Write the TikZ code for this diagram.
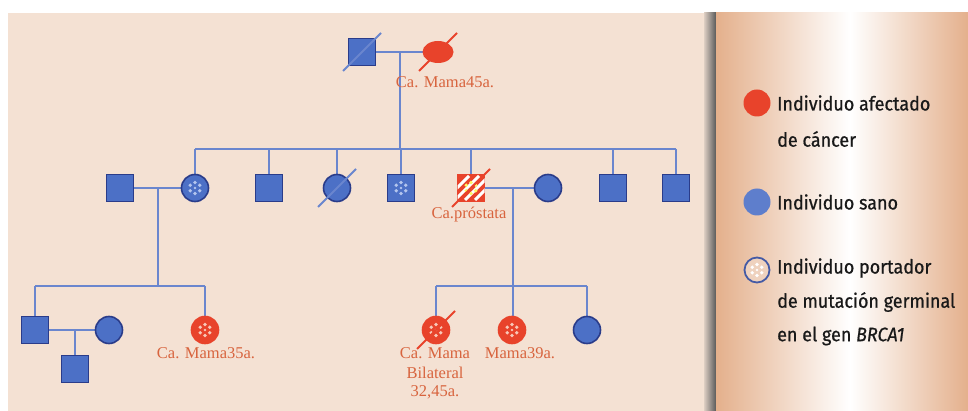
\documentclass[tikz,border=0pt]{standalone}
\usepackage{fontspec}
\setmainfont{Liberation Serif}
\newfontfamily\legfont[FakeStretch=0.92,FakeBold=0.7]{Fira Sans}
\usetikzlibrary{shapes.geometric}
\definecolor{bgbeige}{HTML}{F4E1D3}
\definecolor{nodeblue}{HTML}{4C70C6}
\definecolor{navy}{HTML}{2A3C8A}
\definecolor{lineblue}{HTML}{6A86CE}
\definecolor{affred}{HTML}{E8432B}
\definecolor{labred}{HTML}{D8643E}
\definecolor{tan}{HTML}{E4B08C}
\definecolor{dotblue}{HTML}{B4C6EE}
\definecolor{dotred}{HTML}{F8C8B8}
\tikzset{
  conn/.style={draw=lineblue, line width=2.6pt},
  male/.style={rectangle, minimum size=27pt, inner sep=0pt, fill=nodeblue, draw=navy, line width=1.6pt},
  female/.style={circle, minimum size=27pt, inner sep=0pt, fill=nodeblue, draw=navy, line width=1.6pt},
  affected/.style={fill=affred, draw=affred},
  strike/.style={draw=lineblue, line width=2pt},
  rstrike/.style={draw=affred, line width=2pt},
  lab/.style={font=\fontsize{16.5}{18}\selectfont, text=labred, inner sep=0pt},
  leg/.style={font=\legfont\fontsize{19.5}{21}\selectfont, text=black!90, anchor=west, inner sep=0pt},
}
\newcommand\carrierdots[2]{%
  \foreach \a in {0,60,...,300} \fill[#2] (#1.center) ++(\a+90:5.5pt) circle (1.8pt);
  \fill[#2] (#1.center) circle (1.4pt);}
\newcommand\deceased[2]{%
  \draw[#2] ([shift={(-19,19)}]#1.center) -- ([shift={(19,-19)}]#1.center);}
\begin{document}
\begin{tikzpicture}[x=1pt,y=-1pt]
\useasboundingbox (0,0) rectangle (968,411);
\fill[white] (0,0) rectangle (968,411);
\fill[bgbeige] (8,13) rectangle (704,411);
\shade[left color=bgbeige!80!gray, right color=black!65] (704,13) rectangle (716,411);
\shade[left color=tan, right color=white] (716,13) rectangle (850,411);
\shade[left color=white, right color=tan] (850,13) rectangle (968,411);

% coordinates for connectors
\coordinate (d1top) at (400,52);
\coordinate (d1bot) at (400,149);
\coordinate (sibL) at (195,149);
\coordinate (sibR) at (676,149);
\coordinate (d2top) at (158,188);
\coordinate (d2bot) at (158,286);
\coordinate (sib2L) at (35,286);
\coordinate (sib2R) at (205,286);
\coordinate (d3top) at (513,188);
\coordinate (d3bot) at (513,286);
\coordinate (sib3L) at (436,286);
\coordinate (sib3R) at (587,286);
\coordinate (d4top) at (75,330);

% connectors (drawn first)
\draw[conn] (362,52) -- (438,52);
\draw[conn] (d1top) -- (d1bot);
\draw[conn] (sibL) -- (sibR);
\foreach \x in {195,269,337,401,471,613,676} \draw[conn] (\x,149) -- (\x,188);
\draw[conn] (120,188) -- (195,188);
\draw[conn] (d2top) -- (d2bot);
\draw[conn] (sib2L) -- (sib2R);
\foreach \x in {35,205} \draw[conn] (\x,286) -- (\x,330);
\draw[conn] (35,330) -- (109,330);
\draw[conn] (d4top) -- (75,369);
\draw[conn] (471,188) -- (548,188);
\draw[conn] (d3top) -- (d3bot);
\draw[conn] (sib3L) -- (sib3R);
\foreach \x in {436,513,587} \draw[conn] (\x,286) -- (\x,330);

% Generation I
\node[male] (g1m) at (362,52) {};
\deceased{g1m}{strike}
\node[ellipse, minimum width=31pt, minimum height=22pt, inner sep=0pt, fill=affred] (g1f) at (438,52) {};
\deceased{g1f}{rstrike}
\node[lab] (l1) at (445,82) {Ca. Mama45a.};

% Generation II
\node[male] (A) at (120,188) {};
\node[female] (B) at (195,188) {};
\carrierdots{B}{dotblue}
\node[male] (C) at (269,188) {};
\node[female] (D) at (337,188) {};
\deceased{D}{strike}
\node[male] (E) at (401,188) {};
\carrierdots{E}{dotblue}
\node[male, fill=affred, draw=affred] (F) at (471,188) {};
\begin{scope}
  \clip (457.5,174.5) rectangle (484.5,201.5);
  \foreach \o in {-14,-4,6,16} \draw[white, line width=3pt] ([shift={(\o-12,12)}]F.center) -- ([shift={(\o+12,-12)}]F.center);
\end{scope}
\carrierdots{F}{yellow!60!white}
\deceased{F}{rstrike}
\node[lab] (lF) at (469,215) {Ca.próstata};
\node[female] (G) at (548,188) {};
\node[male] (H) at (613,188) {};
\node[male] (I) at (676,188) {};

% Generation III
\node[male] (J) at (35,330) {};
\node[female] (K) at (109,330) {};
\node[male] (M) at (75,369) {};
\node[female, affected] (L) at (205,330) {};
\carrierdots{L}{dotred}
\node[lab] (lL) at (206,353) {Ca. Mama35a.};
\node[female, affected] (N) at (436,330) {};
\carrierdots{N}{dotred}
\deceased{N}{rstrike}
\node[female, affected] (O) at (512,330) {};
\carrierdots{O}{dotred}
\node[female] (P) at (587,330) {};
\node[lab] (lN1) at (435,353) {Ca. Mama};
\node[lab] (lN2) at (435,373) {Bilateral};
\node[lab] (lN3) at (435,392) {32,45a.};
\node[lab] (lO) at (520,353) {Mama39a.};

% Legend
\node[circle, minimum size=27pt, inner sep=0pt, fill=affred] (k1) at (757,103) {};
\node[circle, minimum size=27pt, inner sep=0pt, fill=nodeblue!90!white] (k2) at (757,202) {};
\node[circle, minimum size=25pt, inner sep=0pt, fill=bgbeige!70!tan, draw=navy!60!lineblue, line width=1.8pt] (k3) at (757,270) {};
\carrierdots{k3}{white}
\node[leg] (t1) at (777,103) {Individuo afectado};
\node[leg] (t2) at (777,139) {de cáncer};
\node[leg] (t3) at (777,202) {Individuo sano};
\node[leg] (t4) at (777,268) {Individuo portador};
\node[leg] (t5) at (777,302) {de mutación germinal};
\node[leg] (t6) at (777,336) {en el gen \textit{BRCA1}};
\end{tikzpicture}
\end{document}
